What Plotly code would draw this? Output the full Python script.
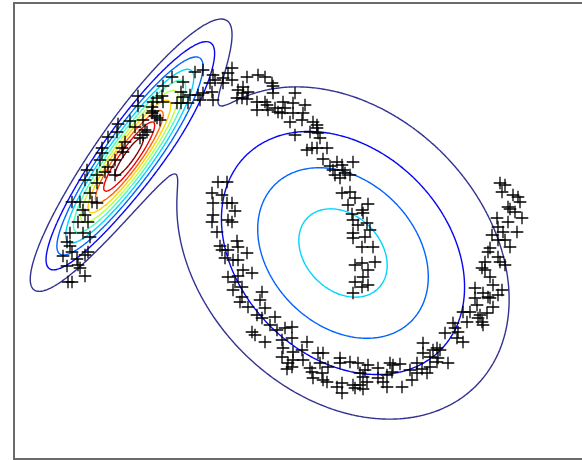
import numpy as np
import plotly.graph_objects as go

# ---------------- data (arbitrary units, y up) ----------------
left_x = [172,183,163,181,183,190,188,181,177,138,162,157,138,153,152,163,153,152,155,160,157,143,130,118,135,145,147,117,143,108,140,125,102,122,123,102,115,100,108,87,105,115,97,85,97,90,72,80,92,97,83,85,78,88,70,83,90,67,70,72,88,63,77,85,67,78,80,85,68,72]
left_y = [383,378,374,368,363,365,357,357,357,364,364,362,354,358,353,358,349,347,344,340,342,340,339,336,333,330,328,328,325,323,322,318,312,312,308,307,300,300,293,290,288,285,285,280,277,267,258,258,258,257,250,245,238,238,227,227,223,218,214,208,208,204,201,205,194,195,192,184,178,178]

top_x = [195,203,213,232,228,223,215,210,223,232,247,258,265,272,273,243,238,248,243,273,295,212,203,198,200,213,237,242,247,257,265,267,283,293,305,257,268,275,278,282,285,293,303,290,302,313,317,310,317,318,295,320,307,312,317,327,323,337]
top_y = [388,390,385,392,387,382,380,377,377,380,383,385,383,377,374,373,370,368,367,367,367,368,367,365,360,360,362,362,361,358,358,355,358,357,355,350,350,352,348,347,352,347,347,338,340,338,335,328,332,327,325,322,310,312,312,312,301,298]

center_x = [342,353,330,333,343,345,335,340,350,342,350,355,348,368,362,352,363,353,367,358,370,353,353,365,362,373,355,362,375,368,363,355,368,362,353]
center_y = [295,298,294,290,290,287,285,282,285,267,268,262,255,256,250,246,247,240,237,235,230,227,222,223,213,213,195,197,198,190,183,178,175,173,167]

right_x = [500,505,502,513,518,520,508,510,515,522,497,508,498,517,503,492,498,505,510,490,488,498,500,505,485,482,485,490,475,483,493,488,498,502,475,490,477,493,487,480,463,478,482,483,467,453,455,458,445,463,457,470]
right_y = [277,275,268,265,263,258,253,251,248,242,242,238,233,228,228,225,220,220,213,212,208,203,198,195,198,192,190,183,172,167,175,163,165,170,162,162,155,153,147,145,148,142,138,135,138,137,132,128,127,118,122,148]

arc_x = [218,227,212,222,213,227,232,235,213,228,232,212,217,237,220,222,228,238,247,225,233,238,243,252,228,238,235,242,233,262,242,240,260,248,265,257,262,275,270,277,285,292,252,255,265,282,292,283,307,302,293,282,318,323,293,303,288,292,287,310,312,320,328,322,313,323,327,340,340,342,337,342]
arc_y = [278,278,267,265,257,257,257,249,245,240,238,238,228,219,214,210,210,213,207,202,200,200,190,187,183,184,178,173,170,168,163,158,160,153,152,145,142,143,135,130,132,133,128,125,118,120,122,112,118,110,108,103,107,107,100,100,97,93,91,92,88,97,93,87,82,80,78,102,97,77,73,67]

bottom_x = [423,350,358,368,378,365,360,390,393,400,417,422,437,430,410,392,387,378,383,363,367,360,353,355,363,387,402,412,417,427,430,433,437,440,438,448,423]
bottom_y = [117,98,97,95,92,90,87,97,95,96,97,91,98,93,90,88,85,82,78,83,78,75,75,72,71,73,73,80,87,87,103,110,112,110,102,97,107]

# two-component Gaussian mixture
WEIGHTS = [0.23, 0.77]
MEANS = [[128, 302], [343, 207]]
COVS = [[[2051, 2546], [2546, 3817]],
        [[9250, -2590], [-2590, 9250]]]
N_LEVELS = 10
PEAK_IN_STEPS = 10.5

X = left_x + top_x + center_x + right_x + arc_x + bottom_x
Y = left_y + top_y + center_y + right_y + arc_y + bottom_y

# ---------------- density grid ----------------
gx = np.linspace(15, 582, 300)
gy = np.linspace(2, 456, 240)
GX, GY = np.meshgrid(gx, gy)
Z = np.zeros_like(GX)
for w, m, c in zip(WEIGHTS, MEANS, COVS):
    c = np.array(c, dtype=float)
    inv = np.linalg.inv(c)
    det = np.linalg.det(c)
    dx = GX - m[0]
    dy = GY - m[1]
    d2 = inv[0, 0] * dx * dx + 2 * inv[0, 1] * dx * dy + inv[1, 1] * dy * dy
    Z += w * np.exp(-0.5 * d2) / (2 * np.pi * np.sqrt(det))

step = Z.max() / PEAK_IN_STEPS

JET = [[0.0, 'rgb(50,50,145)'], [0.125, 'rgb(0,0,255)'], [0.375, 'rgb(0,255,255)'],
       [0.625, 'rgb(255,255,0)'], [0.875, 'rgb(255,0,0)'], [1.0, 'rgb(128,0,0)']]

fig = go.Figure()
fig.add_trace(go.Contour(
    x=gx, y=gy, z=Z,
    contours=dict(coloring='lines', start=step, end=step * (N_LEVELS + 0.01), size=step,
                  showlabels=False),
    colorscale=JET, showscale=False, line=dict(width=1.4, smoothing=1),
    hoverinfo='skip'))
fig.add_trace(go.Scatter(
    x=X, y=Y, mode='markers',
    marker=dict(symbol='cross-thin', size=9, color='black',
                line=dict(width=1.3, color='black')),
    hoverinfo='skip'))

axis_common = dict(showgrid=False, zeroline=False, showticklabels=False, ticks='',
                   showline=True, linecolor='#6b6b6b', linewidth=1.8)
fig.update_layout(
    width=582, height=460,
    margin=dict(l=15, r=0, t=4, b=2),
    paper_bgcolor='white', plot_bgcolor='white',
    showlegend=False,
    xaxis=dict(range=[15, 582], mirror=True, **axis_common),
    yaxis=dict(range=[2, 456], mirror=False, **axis_common),
)
fig.write_html("out.html", config={'displayModeBar': False},
               post_script="document.body.style.margin='0px';document.body.style.overflow='hidden';")
